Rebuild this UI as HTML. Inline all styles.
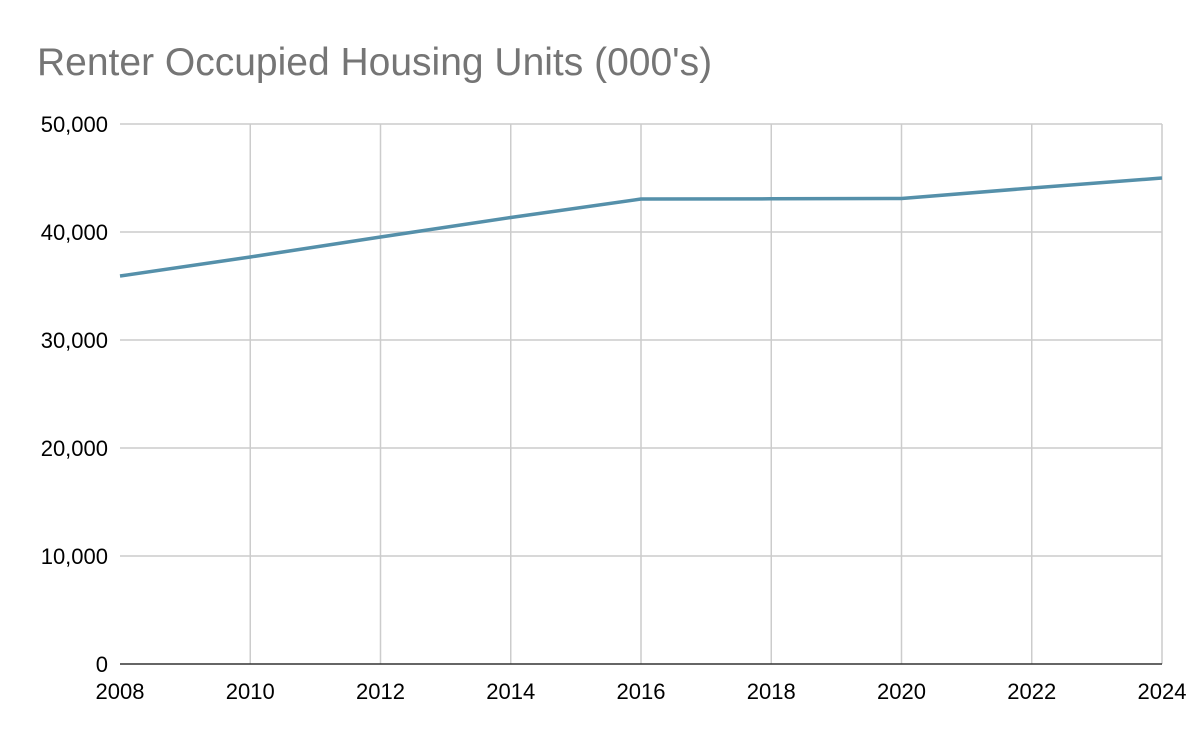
<!DOCTYPE html>
<html><head><meta charset="utf-8"><style>
html,body{margin:0;padding:0;background:#fff;}
svg{display:block;font-family:"Liberation Sans",Arial,sans-serif;}
</style></head><body>
<svg width="1200" height="742" viewBox="0 0 1200 742" xmlns="http://www.w3.org/2000/svg">
<rect width="1200" height="742" fill="#fff"/>
<text x="37" y="75" font-size="39" fill="#757575">Renter Occupied Housing Units (000's)</text>
<g stroke="#cccccc" stroke-width="1.5" fill="none">
<line x1="120" y1="124" x2="1162" y2="124"/>
<line x1="120" y1="232" x2="1162" y2="232"/>
<line x1="120" y1="340" x2="1162" y2="340"/>
<line x1="120" y1="448" x2="1162" y2="448"/>
<line x1="120" y1="556" x2="1162" y2="556"/>
<line x1="250.25" y1="124" x2="250.25" y2="664"/>
<line x1="380.5" y1="124" x2="380.5" y2="664"/>
<line x1="510.75" y1="124" x2="510.75" y2="664"/>
<line x1="641" y1="124" x2="641" y2="664"/>
<line x1="771.25" y1="124" x2="771.25" y2="664"/>
<line x1="901.5" y1="124" x2="901.5" y2="664"/>
<line x1="1031.75" y1="124" x2="1031.75" y2="664"/>
<line x1="1162" y1="124" x2="1162" y2="664"/>
</g>
<line x1="120" y1="664" x2="1162" y2="664" stroke="#333" stroke-width="1.5"/>
<g font-size="22" fill="#000" text-anchor="end">
<text x="108" y="132">50,000</text>
<text x="108" y="240">40,000</text>
<text x="108" y="348">30,000</text>
<text x="108" y="456">20,000</text>
<text x="108" y="564">10,000</text>
<text x="108" y="672">0</text>
</g>
<g font-size="22" fill="#000" text-anchor="middle">
<text x="120" y="699">2008</text>
<text x="250.25" y="699">2010</text>
<text x="380.5" y="699">2012</text>
<text x="510.75" y="699">2014</text>
<text x="641" y="699">2016</text>
<text x="771.25" y="699">2018</text>
<text x="901.5" y="699">2020</text>
<text x="1031.75" y="699">2022</text>
<text x="1162" y="699">2024</text>
</g>
<polyline fill="none" stroke="#5590aa" stroke-width="3.5" stroke-linejoin="round"
points="120,276 250.25,257 380.5,237 510.75,217.5 641,199 771.25,198.8 901.5,198.5 1031.75,188 1162,178"/>
</svg>
</body></html>
